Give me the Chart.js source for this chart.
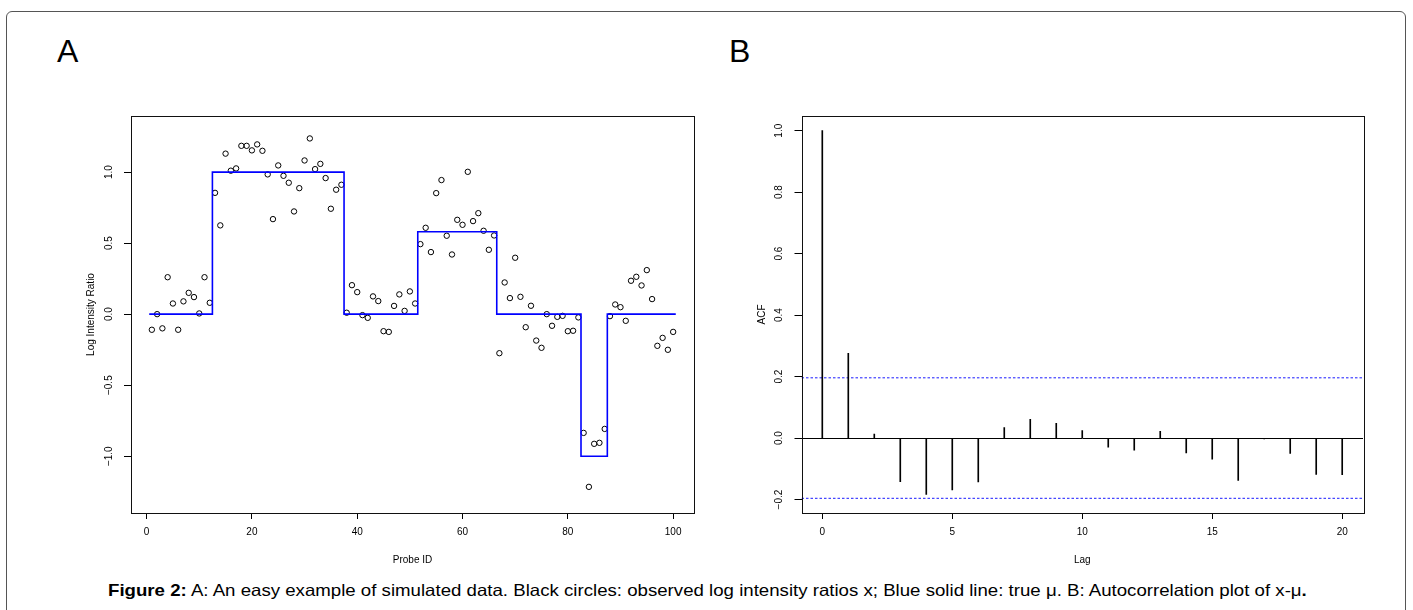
<!DOCTYPE html>
<html>
<head>
<meta charset="utf-8">
<script src="https://cdn.jsdelivr.net/npm/chart.js@4.4.1/dist/chart.umd.min.js"></script>
<style>
  html, body { margin: 0; padding: 0; background: #fff; }
  body { width: 1413px; height: 610px; position: relative; overflow: hidden;
         font-family: "Liberation Sans", Arial, sans-serif; }
  .frame { position: absolute; left: 6px; top: 11px; width: 1400px; height: 640px;
           border: 1px solid #555; border-radius: 6px; box-sizing: border-box; }
  .panel-tag { position: absolute; top: 33px; font-size: 32px; line-height: 36px; color: #000; }
  canvas { position: absolute; }
  .caption { position: absolute; left: 108px; top: 581px; font-size: 16.5px; white-space: nowrap; color: #000;
             transform: scaleX(1.13); transform-origin: 0 0; }
</style>
</head>
<body>
<div class="frame"></div>
<div class="panel-tag" style="left:57px">A</div>
<div class="panel-tag" style="left:729px">B</div>
<canvas id="chartA" width="710" height="480" style="left:0;top:100px"></canvas>
<canvas id="chartB" width="693" height="480" style="left:720px;top:100px"></canvas>
<div class="caption"><b>Figure 2:</b> A: An easy example of simulated data. Black circles: observed log intensity ratios x; Blue solid line: true μ. B: Autocorrelation plot of x-μ<b>.</b></div>

<script>
// panel A: observed log intensity ratios, probes 1..100
const logRatio = [
  -0.11, 0.0, -0.10, 0.26, 0.075, -0.11, 0.09, 0.15, 0.12, 0.005,
  0.26, 0.08, 0.854, 0.625, 1.13, 1.01, 1.026, 1.185, 1.185, 1.153,
  1.195, 1.15, 0.984, 0.669, 1.047, 0.974, 0.925, 0.723, 0.887, 1.082,
  1.237, 1.021, 1.058, 0.958, 0.742, 0.876, 0.911, 0.01, 0.204, 0.155,
  -0.007, -0.026, 0.125, 0.092, -0.12, -0.125, 0.058, 0.139, 0.023, 0.16,
  0.075, 0.493, 0.608, 0.437, 0.852, 0.944, 0.552, 0.42, 0.664, 0.629,
  1.002, 0.655, 0.711, 0.587, 0.453, 0.554, -0.275, 0.223, 0.113, 0.397,
  0.122, -0.092, 0.059, -0.186, -0.237, 0.0, -0.082, -0.019, -0.012, -0.12,
  -0.117, -0.023, -0.836, -1.216, -0.913, -0.906, -0.808, -0.014, 0.068, 0.049,
  -0.047, 0.235, 0.263, 0.202, 0.31, 0.106, -0.223, -0.167, -0.251, -0.125
];
// true mu: piecewise constant, segment starts and levels
const muBreaks = [0.5, 12.5, 37.5, 51.5, 66.5, 82.5, 87.5, 100.5];
const muLevels = [0, 1, 0, 0.58, 0, -1, 0, 0];

const probeTicks = [0, 20, 40, 60, 80, 100];
const ratioTicks = [-1, -0.5, 0, 0.5, 1];
const probeRange = [-2.96, 103.96];
const ratioRange = [-1.4, 1.395];

// panel B: autocorrelation of x - mu
const lags = [0, 1, 2, 3, 4, 5, 6, 7, 8, 9, 10, 11, 12, 13, 14, 15, 16, 17, 18, 19, 20];
const acfValues = [1.0, 0.276, 0.013, -0.142, -0.183, -0.169, -0.143, 0.034, 0.061, 0.048,
  0.024, -0.030, -0.039, 0.022, -0.048, -0.069, -0.138, -0.003, -0.05, -0.118, -0.119];
const clim = 0.196;
const lagTicks = [0, 5, 10, 15, 20];
const acfTicks = [-0.2, 0, 0.2, 0.4, 0.6, 0.8, 1.0];
const lagRange = [-0.8, 20.8];
const acfRange = [-0.2438, 1.0478];

Chart.defaults.font.family = '"Liberation Sans", Arial, sans-serif';
Chart.defaults.font.size = 10;
Chart.defaults.color = '#000';

const fmt = v => v.toFixed(1).replace('-', '\u2212');

// R style box around the plot region
const boxPlugin = {
  id: 'box',
  afterDraw(chart) {
    const a = chart.chartArea, ctx = chart.ctx;
    ctx.save();
    ctx.strokeStyle = '#111';
    ctx.lineWidth = 1;
    ctx.strokeRect(Math.round(a.left) + 0.5, Math.round(a.top) + 0.5,
      Math.round(a.right - a.left), Math.round(a.bottom - a.top));
    ctx.restore();
  }
};

function xAxis(range, ticks, title, fmtFn) {
  return {
    type: 'linear', min: range[0], max: range[1], offset: false,
    afterBuildTicks: s => { s.ticks = ticks.map(v => ({ value: v })); },
    afterFit: s => { s.height = 67; },
    grid: { drawOnChartArea: false, drawTicks: true, tickLength: 6, color: '#000', offset: false },
    border: { display: false },
    ticks: { padding: 7, maxRotation: 0, callback: fmtFn },
    title: { display: true, text: title, font: { size: 10 }, padding: { top: 0, bottom: 14 } }
  };
}

function yAxis(range, ticks, title, width, titlePad, grid) {
  return {
    type: 'linear', min: range[0], max: range[1],
    afterBuildTicks: s => { s.ticks = ticks.map(v => ({ value: v })); },
    afterFit: s => { s.width = width; },
    grid: grid,
    border: { display: false },
    ticks: { padding: 5, minRotation: 90, maxRotation: 90, crossAlign: 'center', callback: v => fmt(v) },
    title: { display: true, text: title, font: { size: 10 }, padding: { top: titlePad, bottom: 0 } }
  };
}

new Chart(document.getElementById('chartA'), {
  type: 'scatter',
  data: {
    datasets: [
      {
        type: 'line',
        data: muBreaks.map((x, i) => ({ x: x, y: muLevels[i] })),
        stepped: 'before',
        borderColor: '#0000ff',
        borderWidth: 1.6,
        pointRadius: 0,
        fill: false
      },
      {
        data: logRatio.map((y, i) => ({ x: i + 1, y: y })),
        pointStyle: 'circle',
        pointRadius: 2.7,
        borderWidth: 1,
        borderColor: '#000',
        backgroundColor: 'rgba(0,0,0,0)'
      }
    ]
  },
  options: {
    responsive: false, animation: false, devicePixelRatio: 1,
    layout: { padding: { top: 16, right: 16, left: 0, bottom: 0 } },
    plugins: { legend: { display: false }, tooltip: { enabled: false } },
    scales: {
      x: xAxis(probeRange, probeTicks, 'Probe ID', v => String(v)),
      y: yAxis(ratioRange, ratioTicks, 'Log Intensity Ratio', 131, 85,
        { drawOnChartArea: false, drawTicks: true, tickLength: 7, color: '#000' })
    }
  },
  plugins: [boxPlugin]
});

new Chart(document.getElementById('chartB'), {
  type: 'bar',
  data: {
    datasets: [
      {
        type: 'bar',
        data: lags.map((x, i) => ({ x: x, y: acfValues[i] })),
        backgroundColor: '#000',
        barThickness: 1,
        borderWidth: 0
      },
      {
        type: 'line',
        data: lagRange.map(x => ({ x: x, y: clim })),
        borderColor: '#1a1aff', borderWidth: 1, borderDash: [2.5, 2], pointRadius: 0
      },
      {
        type: 'line',
        data: lagRange.map(x => ({ x: x, y: -clim })),
        borderColor: '#1a1aff', borderWidth: 1, borderDash: [2.5, 2], pointRadius: 0
      }
    ]
  },
  options: {
    responsive: false, animation: false, devicePixelRatio: 1,
    layout: { padding: { top: 16, right: 50, left: 0, bottom: 0 } },
    plugins: { legend: { display: false }, tooltip: { enabled: false } },
    scales: {
      x: xAxis(lagRange, lagTicks, 'Lag', v => String(v)),
      y: yAxis(acfRange, acfTicks, 'ACF', 81.5, 36, {
        drawOnChartArea: true, drawTicks: true, tickLength: 7, tickColor: '#000',
        color: c => (c.tick && c.tick.value === 0 ? '#000' : 'rgba(0,0,0,0)')
      })
    }
  },
  plugins: [boxPlugin]
});
</script>
</body>
</html>
